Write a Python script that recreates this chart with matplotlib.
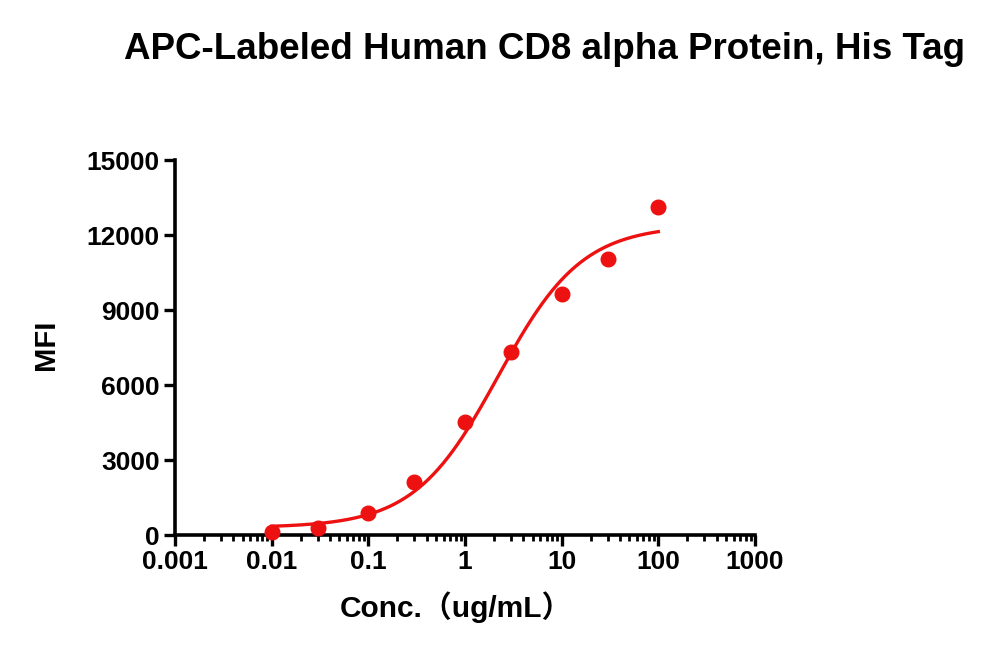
import numpy as np
import matplotlib
matplotlib.use("Agg")
import matplotlib.pyplot as plt
from matplotlib.ticker import LogLocator, NullFormatter

# Data
conc = [0.01, 0.03, 0.1, 0.3, 1, 3, 10, 30, 100]
mfi = [107, 267, 867, 2107, 4533, 7333, 9653, 11040, 13133]
# 4-parameter logistic fit parameters
fit_bottom = 300
fit_top = 12400
fit_ec50 = 2.2
fit_hill = 1.0

x_ticks = [0.001, 0.01, 0.1, 1, 10, 100, 1000]
x_labels = ["0.001", "0.01", "0.1", "1", "10", "100", "1000"]
y_ticks = [0, 3000, 6000, 9000, 12000, 15000]
y_labels = ["0", "3000", "6000", "9000", "12000", "15000"]

title = "APC-Labeled Human CD8 alpha Protein, His Tag"
xlabel = "Conc.（ug/mL）"
ylabel = "MFI"

fam = ["Liberation Sans", "Noto Sans CJK SC", "DejaVu Sans"]
plt.rcParams["font.family"] = fam
plt.rcParams["font.weight"] = "bold"

red = "#EE1111"

fig = plt.figure(figsize=(10, 6.51), dpi=100)
ax = fig.add_axes([0.175, 0.178, 0.58, 0.576])

xs = np.logspace(np.log10(min(conc)), np.log10(max(conc)), 400)
ys = fit_bottom + (fit_top - fit_bottom) / (1 + (fit_ec50 / xs) ** fit_hill)
ax.plot(xs, ys, color=red, lw=2.4, zorder=2)
ax.plot(conc, mfi, "o", color=red, ms=10.5, zorder=3, clip_on=False)

ax.set_xscale("log")
ax.set_xlim(0.001, 1000)
ax.set_ylim(0, 15000)
ax.set_xticks(x_ticks)
ax.set_xticklabels(x_labels)
ax.xaxis.set_minor_locator(LogLocator(base=10, subs=np.arange(2, 10), numticks=20))
ax.xaxis.set_minor_formatter(NullFormatter())
ax.set_yticks(y_ticks)
ax.set_yticklabels(y_labels)

for s in ["top", "right"]:
    ax.spines[s].set_visible(False)
for s in ["left", "bottom"]:
    ax.spines[s].set_linewidth(2.6)

ax.tick_params(axis="both", which="major", direction="out", length=8, width=2.4,
               labelsize=19, pad=3)
ax.tick_params(axis="x", which="minor", direction="out", length=4.5, width=2.0)
for lab in ax.get_xticklabels() + ax.get_yticklabels():
    lab.set_fontweight("bold")

fig.text(0.456, 1 - 617 / 651, xlabel, ha="center", va="baseline",
         fontsize=21.5, fontweight="bold")
fig.text(0.0455, 1 - 345 / 651, ylabel, ha="center", va="center", rotation=90,
         fontsize=21, fontweight="bold")
fig.text(0.544, 1 - 59 / 651, title, ha="center", va="baseline",
         fontsize=26.5, fontweight="bold")

fig.savefig("out.png", dpi=100, facecolor="white")
